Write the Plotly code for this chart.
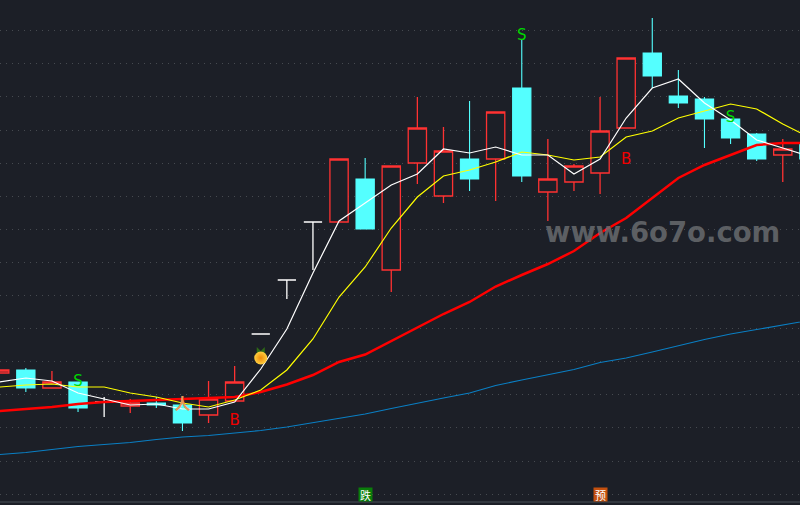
import plotly.graph_objects as go

BG = "#1c1f27"

# candles (arbitrary price scale)
bars = list(range(32))
opens = [132, 135, 117, 123, 103, 99, 102, 100, 90, 104, 171, 225, 283, 283, 326, 235,
         342, 309, 346, 346, 417, 313, 323, 332, 377, 452, 409, 406, 386, 371, 350, 361]
highs = [135, 137, 134, 123, 108, 106, 108, 107, 124, 139, 171, 225, 283, 346, 347, 339,
         408, 378, 404, 393, 465, 366, 341, 408, 447, 487, 435, 408, 386, 372, 366, 361]
lows = [132, 113, 117, 93, 88, 92, 97, 74, 82, 104, 171, 206, 235, 283, 276, 213,
        321, 302, 314, 304, 323, 284, 314, 311, 377, 417, 397, 357, 361, 344, 323, 346]
closes = [135, 117, 123, 97, 103, 102, 100, 82, 106, 123, 171, 225, 283, 346, 276, 339,
          377, 354, 326, 393, 329, 326, 339, 374, 447, 429, 402, 386, 367, 346, 356, 346]

# moving averages
ma5 = [123, 127, 124, 112, 106, 100, 101, 96, 96, 103, 136, 176, 232, 284, 302, 320,
       331, 356, 352, 358, 350, 350, 331, 346, 387, 417, 426, 402, 385, 365, 357, 349]
ma10 = [118, 120, 121, 118, 118, 112, 108, 102, 98, 105, 115, 135, 166, 208, 238, 277,
        308, 329, 335, 343, 353, 350, 345, 348, 368, 374, 387, 394, 401, 396, 381, 368]
ma20 = [94, 96, 98, 101, 103, 104, 105, 106, 107, 108, 113, 120.5, 130, 143, 150.5, 164,
        178, 191, 203, 218.5, 230, 241, 254, 272, 287, 307, 327, 340, 350, 360, 362, 362]
ma60 = [50.5, 52.5, 55.5, 58.5, 60.5, 62.5, 65.5, 68, 69.5, 72, 74.5, 78, 82.5, 87, 91, 96.5,
        102, 107, 112, 119.5, 125, 130, 135.5, 142.5, 147, 153, 159.5, 165.5, 171, 175.5, 180, 184.5]

# signals
sell_x = [3, 20, 28]
sell_y = [123, 469, 387]
buy_x = [9, 24]
buy_y = [84, 345]
figure_x = [7]
figure_y = [100]
fruit_x = [10]
fruit_y = [147]
leaf_y = [154]
badge_x = [14, 23]
badge_y = [11, 11]
badge_text = ["跌", "预"]
badge_color = ["#0a7d0a", "#c4500f"]

fig = go.Figure()

# red / cyan candles, flat ones go in their own white trace
body = [i for i in bars if opens[i] != closes[i]]
flat = [i for i in bars if opens[i] == closes[i]]


def pick(values, idx):
    return [values[i] for i in idx]


fig.add_trace(
    go.Candlestick(
        x=pick(bars, body),
        open=pick(opens, body),
        high=pick(highs, body),
        low=pick(lows, body),
        close=pick(closes, body),
        increasing=dict(line=dict(color="#ff3232", width=1.3), fillcolor=BG),
        decreasing=dict(line=dict(color="#54ffff", width=1.1), fillcolor="#54ffff"),
        whiskerwidth=0,
    )
)
fig.add_trace(
    go.Candlestick(
        x=pick(bars, flat),
        open=pick(opens, flat),
        high=pick(highs, flat),
        low=pick(lows, flat),
        close=pick(closes, flat),
        increasing=dict(line=dict(color="#ffffff", width=1.3), fillcolor="#ffffff"),
        decreasing=dict(line=dict(color="#ffffff", width=1.3), fillcolor="#ffffff"),
        whiskerwidth=0,
    )
)

for values, color, width in [
    (ma60, "#0a7fc4", 1.1),
    (ma20, "#ff0000", 2.5),
    (ma10, "#ffff00", 1.2),
    (ma5, "#ffffff", 1.2),
]:
    fig.add_trace(go.Scatter(x=bars, y=values, mode="lines", line=dict(color=color, width=width)))

fig.add_trace(
    go.Scatter(
        x=sell_x, y=sell_y, mode="text", text=["S"] * len(sell_x),
        textfont=dict(family="DejaVu Sans", size=15, color="#00d800"),
    )
)
fig.add_trace(
    go.Scatter(
        x=buy_x, y=buy_y, mode="text", text=["B"] * len(buy_x),
        textfont=dict(family="DejaVu Sans", size=15, color="#f00000"),
    )
)
fig.add_trace(
    go.Scatter(
        x=figure_x, y=figure_y, mode="text", text=["<b>人</b>"],
        textfont=dict(family="Noto Sans CJK SC", size=16, color="#e8975a"),
    )
)
fig.add_trace(
    go.Scatter(
        x=fruit_x, y=leaf_y, mode="markers",
        marker=dict(symbol="bowtie", size=8, color="#2f6b16"),
    )
)
fig.add_trace(
    go.Scatter(
        x=fruit_x, y=fruit_y, mode="markers",
        marker=dict(size=13, color="#ffd040", gradient=dict(type="radial", color="#f08a08"), line=dict(width=0)),
    )
)

for x, y, t, c in zip(badge_x, badge_y, badge_text, badge_color):
    fig.add_annotation(
        x=x, y=y, text=t, showarrow=False, bgcolor=c, width=13, height=13, borderpad=0,
        font=dict(family="Noto Sans CJK SC", size=11, color="#ffffff"),
    )

# site watermark sits on top of the lines
fig.add_annotation(
    x=25.4, y=273, text="<b>www.6o7o.com</b>", showarrow=False,
    font=dict(family="DejaVu Sans", size=27.5, color="rgba(105,107,111,0.85)"),
)

# bottom rule
fig.add_hline(y=3, line=dict(color="#3a4048", width=1.5))

fig.update_layout(
    width=800,
    height=505,
    margin=dict(l=0, r=0, t=0, b=0),
    paper_bgcolor=BG,
    plot_bgcolor=BG,
    showlegend=False,
    hovermode=False,
    boxgap=0.3,
    boxgroupgap=0,
    xaxis=dict(range=[0.01, 30.66], visible=False, rangeslider=dict(visible=False)),
    yaxis=dict(
        range=[0, 505],
        tick0=44,
        dtick=33.1,
        showgrid=True,
        gridcolor="#464a50",
        griddash="1px,5px",
        gridwidth=1,
        zeroline=False,
        showticklabels=False,
        ticks="",
    ),
)

# the page margin would push the 800x505 plot off the window
fig.write_html(
    "out.html",
    config=dict(displayModeBar=False),
    post_script="document.body.style.margin='0';document.body.style.background='#1c1f27';",
)
